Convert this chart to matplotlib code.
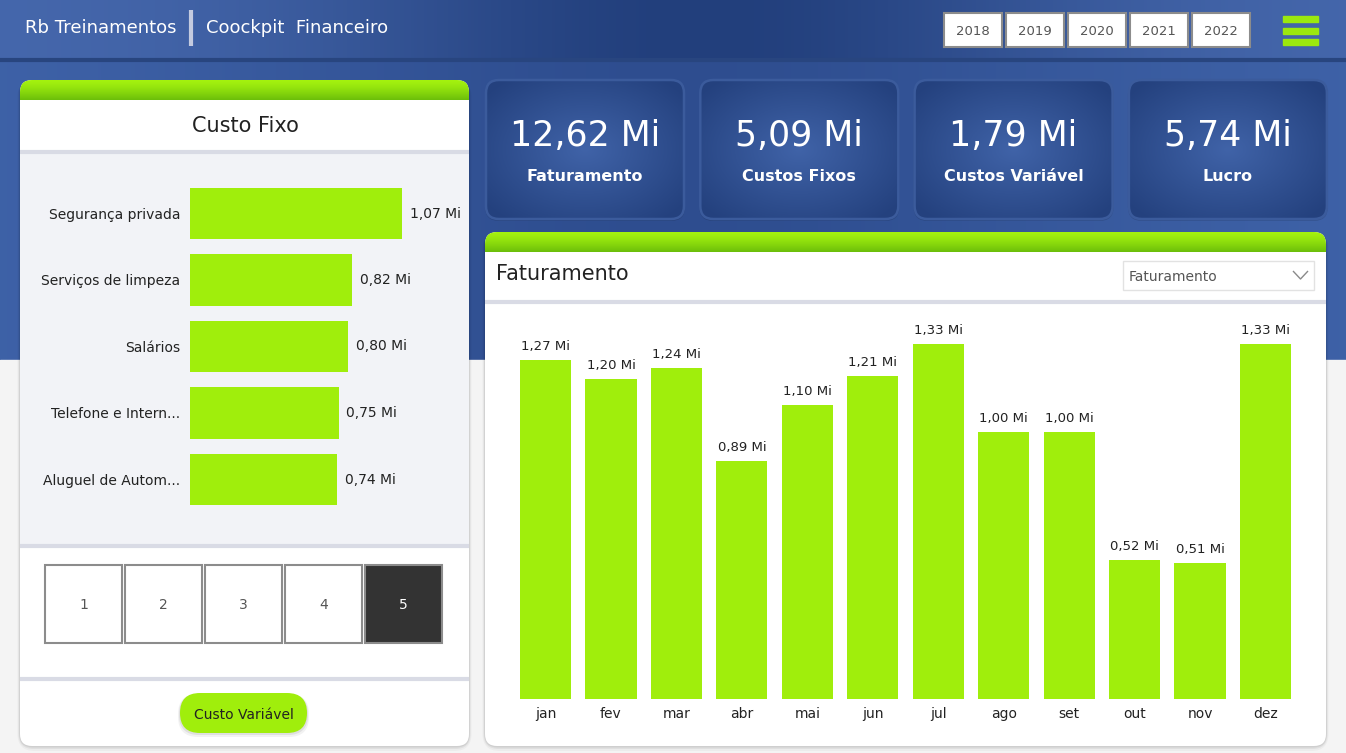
import numpy as np
import matplotlib
matplotlib.use("Agg")
import matplotlib.pyplot as plt
from matplotlib.patches import FancyBboxPatch, Rectangle
from matplotlib.colors import to_rgb

W, H = 1346, 753

# dados do painel
anos = ["2018", "2019", "2020", "2021", "2022"]
kpi_labels = ["Faturamento", "Custos Fixos", "Custos Variável", "Lucro"]
kpi_values = [12.62, 5.09, 1.79, 5.74]
custo_cat = ["Segurança privada", "Serviços de limpeza", "Salários",
             "Telefone e Intern...", "Aluguel de Autom..."]
custo_val = [1.07, 0.82, 0.80, 0.75, 0.74]
meses = ["jan", "fev", "mar", "abr", "mai", "jun",
         "jul", "ago", "set", "out", "nov", "dez"]
fat_val = [1.27, 1.20, 1.24, 0.89, 1.10, 1.21, 1.33, 1.00, 1.00, 0.52, 0.51, 1.33]
paginas = ["1", "2", "3", "4", "5"]

GREEN = "#a0ee0c"
TXT = "#222222"
plt.rcParams['font.family'] = ['DejaVu Sans']
plt.rcParams['lines.solid_capstyle'] = 'butt'


def mi(v):
    return f"{v:.2f}".replace(".", ",") + " Mi"


fig = plt.figure(figsize=(W / 100, H / 100), dpi=100)
bg = fig.add_axes([0, 0, 1, 1])
bg.set_xlim(0, W)
bg.set_ylim(H, 0)
bg.axis('off')


def box(x0, y0, x1, y1, r=0, z=1, **kw):
    style = f"round,pad=0,rounding_size={r}" if r else "square,pad=0"
    p = FancyBboxPatch((x0, y0), x1 - x0, y1 - y0, boxstyle=style, zorder=z, **kw)
    bg.add_patch(p)
    return p


def fig_axes(x0, y0, x1, y1):
    return fig.add_axes([x0 / W, 1 - y1 / H, (x1 - x0) / W, (y1 - y0) / H])


def mix(c1, c2, t):
    c1, c2 = np.array(to_rgb(c1)), np.array(to_rgb(c2))
    t = np.asarray(t)[..., None]
    return c1 * (1 - t) + c2 * t


# fundo azul com degrade
xs = np.linspace(0, 1, 400)
t_head = np.exp(-((xs - 0.52) / 0.28) ** 2)
t_body = np.exp(-((xs - 0.5) / 0.35) ** 2) * 0.8
head = np.repeat(mix("#4668ad", "#223f7c", t_head)[None], 2, axis=0)
body = np.repeat(mix("#4064aa", "#2a4889", t_body)[None], 2, axis=0)
bg.imshow(head, extent=[0, W, 58, 0], aspect='auto', zorder=0)
bg.imshow(body, extent=[0, W, 360, 60], aspect='auto', zorder=0)
bg.add_patch(Rectangle((0, 360), W, H - 360, color="#f4f4f4", zorder=0))
bg.plot([0, W], [59.5, 59.5], color="#28457f", lw=3, zorder=1)
bg.set_xlim(0, W)
bg.set_ylim(H, 0)

# cabecalho
bg.text(25, 28, "Rb Treinamentos", color="white", fontsize=13, va="center", zorder=5)
bg.plot([191, 191], [10, 46], color="#c4cbe0", lw=3, zorder=5)
bg.text(206, 28, "Coockpit  Financeiro", color="white", fontsize=13, va="center", zorder=5)

for i, a in enumerate(anos):
    x0 = 944 + i * 62
    bg.add_patch(Rectangle((x0, 13), 58, 34, fc="white", ec="#8c8c8c", lw=1.5, zorder=5))
    bg.text(x0 + 29, 31, a, color="#555555", fontsize=9.5, ha="center", va="center", zorder=6)

for y in (16, 27.5, 39):
    bg.add_patch(Rectangle((1283, y), 35, 6, color="#9be80e", zorder=5))


def green_top(x0, y0, x1, r):
    p = box(x0, y0, x1, y0 + 34, r=r, z=3, fc="none", ec="none")
    g = mix("#a4f20f", "#6cbf0a", np.linspace(0, 1, 30) ** 1.3)[:, None, :]
    g = np.repeat(g, 2, axis=1)
    im = bg.imshow(g, extent=[x0, x1, y0 + 20, y0], aspect='auto', zorder=3)
    im.set_clip_path(p)


def shadow(x0, y0, x1, y1, r):
    for d, a in ((5, 0.03), (3, 0.05), (1.5, 0.07)):
        box(x0 - d / 2, y0, x1 + d / 2, y1 + d, r=r + d, z=1, fc=(0, 0, 0, a), ec="none")


# card esquerdo - Custo Fixo
shadow(20, 80, 469, 746, 12)
box(20, 80, 469, 746, r=12, z=2, fc="white", ec="none")
green_top(20, 80, 469, 12)
bg.set_xlim(0, W)
bg.set_ylim(H, 0)
bg.add_patch(Rectangle((20, 100), 449, 50, fc="white", zorder=4))
bg.add_patch(Rectangle((20, 152), 449, 392, fc="#f2f3f7", zorder=4))
for y in (151.5, 545.5, 678.5):
    bg.plot([20, 469], [y, y], color="#d9dbe5", lw=3, zorder=5)
bg.text(245, 126, "Custo Fixo", color=TXT, fontsize=15, ha="center", va="center", zorder=6)

for i, p in enumerate(paginas):
    x0 = 45 + i * 80
    dark = i == len(paginas) - 1
    bg.add_patch(Rectangle((x0, 565), 77, 78, fc="#333333" if dark else "white",
                           ec="#8c8c8c", lw=1.5, zorder=5))
    bg.text(x0 + 38.5, 605, p, color="white" if dark else "#555555", fontsize=10,
            ha="center", va="center", zorder=6)

for d, a in ((4, 0.05), (2, 0.08)):
    box(180 - d / 2, 693 + 1, 307 + d / 2, 733 + d, r=20, z=5, fc=(0, 0, 0, a), ec="none")
box(180, 693, 307, 733, r=20, z=6, fc=GREEN, ec="none")
bg.text(243.5, 715, "Custo Variável", color=TXT, fontsize=10, ha="center", va="center", zorder=7)

axh = fig_axes(190, 180.25, 460, 512.75)
ypos = np.arange(len(custo_cat))
axh.barh(ypos, custo_val, height=0.767, color=GREEN)
axh.set_xlim(0, 270 / 198)
axh.set_ylim(len(custo_cat) - 0.5, -0.5)
axh.set_yticks(ypos, custo_cat, fontsize=10, color=TXT)
axh.set_xticks([])
axh.tick_params(axis="y", length=0, pad=7)
axh.patch.set_visible(False)
for s in axh.spines.values():
    s.set_visible(False)
for yi, v in zip(ypos, custo_val):
    axh.annotate(mi(v), (v, yi), xytext=(8, 0), textcoords="offset pixels",
                 va="center", fontsize=10, color=TXT)

# cards de KPI
yy, xx = np.mgrid[-1:1:80j, -1:1:160j]
rr = np.clip(np.sqrt(xx ** 2 + yy ** 2) / 1.3, 0, 1)
radial = mix("#4063a8", "#24417e", rr)
for i, (lab, v) in enumerate(zip(kpi_labels, kpi_values)):
    x0 = 486 + i * 214.3
    x1 = x0 + 198
    box(x0 - 1, 80, x1 + 1, 221, r=14, z=1, fc=(0, 0, 0, 0.12), ec="none")
    p = box(x0, 80, x1, 219, r=13, z=3, fc="none", ec="#3b5b9c", lw=1.8)
    im = bg.imshow(radial, extent=[x0, x1, 219, 80], aspect='auto', zorder=2)
    im.set_clip_path(p)
    bg.text((x0 + x1) / 2, 136, mi(v), color="white", fontsize=25, ha="center",
            va="center", zorder=5)
    bg.text((x0 + x1) / 2, 176, lab, color="white", fontsize=11.5, fontweight="bold",
            ha="center", va="center", zorder=5)
bg.set_xlim(0, W)
bg.set_ylim(H, 0)

# card direito - Faturamento
shadow(485, 232, 1326, 746, 12)
box(485, 232, 1326, 746, r=12, z=2, fc="white", ec="none")
green_top(485, 232, 1326, 12)
bg.set_xlim(0, W)
bg.set_ylim(H, 0)
bg.add_patch(Rectangle((485, 252), 841, 48, fc="white", zorder=4))
bg.plot([485, 1326], [301.5, 301.5], color="#d9dbe5", lw=3, zorder=5)
bg.text(496, 274, "Faturamento", color=TXT, fontsize=15, va="center", zorder=6)
bg.add_patch(Rectangle((1123, 261), 191, 29, fc="white", ec="#e2e2e2", lw=1, zorder=5))
bg.text(1129, 277, "Faturamento", color="#555555", fontsize=10, va="center", zorder=6)
bg.plot([1293, 1300.5, 1308], [271, 279, 271], color="#8a8a8a", lw=1, zorder=6)

axc = fig_axes(512.8, 320, 1298.2, 699)
xpos = np.arange(len(meses))
axc.bar(xpos, fat_val, width=0.78, color=GREEN)
axc.set_xlim(-0.5, len(meses) - 0.5)
axc.set_ylim(0, 379 / 267)
axc.set_xticks(xpos, meses, fontsize=10, color=TXT)
axc.set_yticks([])
axc.tick_params(axis="x", length=0, pad=6)
axc.patch.set_visible(False)
for s in axc.spines.values():
    s.set_visible(False)
for xi, v in zip(xpos, fat_val):
    axc.annotate(mi(v), (xi, v), xytext=(0, 7), textcoords="offset pixels",
                 ha="center", va="bottom", fontsize=9.5, color=TXT)

fig.savefig("out.png", dpi=100)
